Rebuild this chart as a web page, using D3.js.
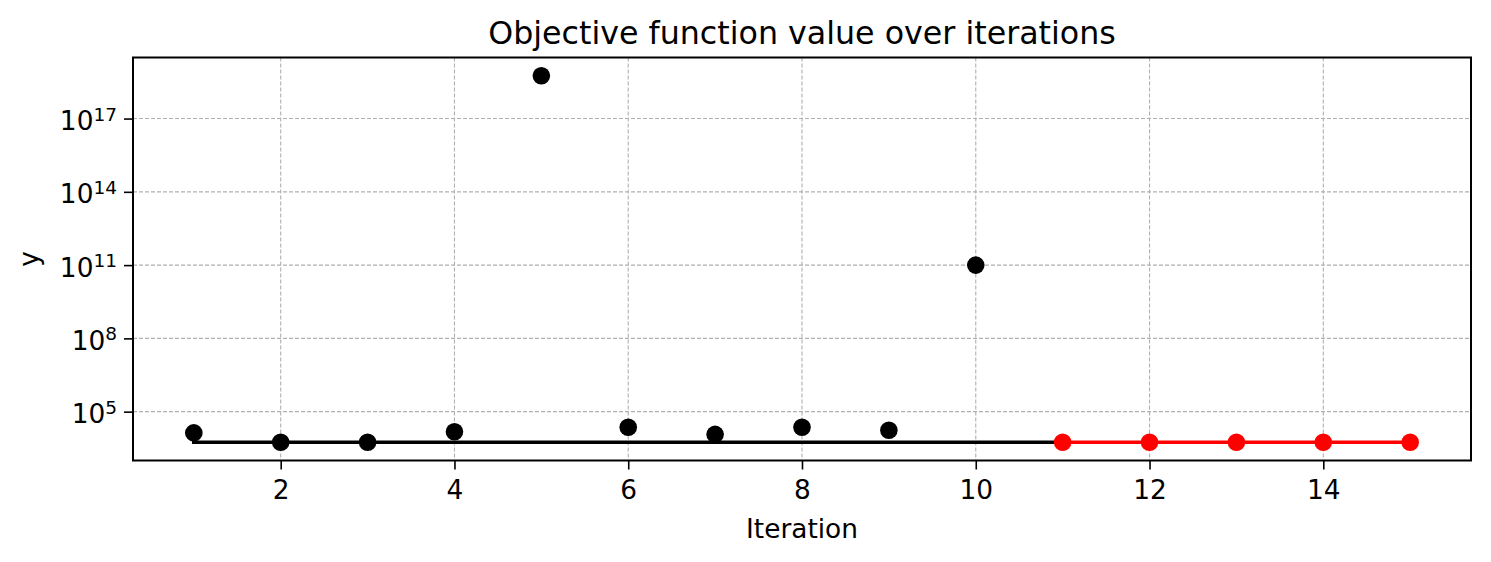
<!DOCTYPE html>
<html>
<head>
<meta charset="utf-8">
<script src="https://cdn.jsdelivr.net/npm/d3@7"></script>
<style>
  html, body { margin: 0; padding: 0; background: #fff; }
  svg { display: block; font-family: "DejaVu Sans", sans-serif; }
</style>
</head>
<body>
<svg id="chart" width="1491" height="562"></svg>
<script>
// ---- data ----
const iterations = [1, 2, 3, 4, 5, 6, 7, 8, 9, 10, 11, 12, 13, 14, 15];
const logValues = [4.13, 3.75, 3.75, 4.18, 18.75, 4.36, 4.07, 4.36, 4.24, 11.0, 3.75, 3.75, 3.75, 3.75, 3.75];
const initialCount = 10; // first 10 iterations are black, remaining are red
const bestLineX = [1, 11];
const xTicks = [2, 4, 6, 8, 10, 12, 14];
const yTickExponents = [5, 8, 11, 14, 17];
const titleText = "Objective function value over iterations";
const xLabel = "Iteration";
const yLabel = "y";

const values = logValues.map(v => Math.pow(10, v));
const bestValue = d3.min(values);

// ---- layout ----
const svg = d3.select("#chart");
const pL = 133, pR = 1471, pT = 57.5, pB = 460.5;
const fs = 26.4;

const x = d3.scaleLinear().domain([0.3, 15.7]).range([pL, pR]);
const y = d3.scaleLog().domain([Math.pow(10, 3.0), Math.pow(10, 19.5)]).range([pB, pT]);

// grid
const grid = svg.append("g");
grid.selectAll("line.gx").data(xTicks).join("line")
  .attr("x1", d => x(d)).attr("x2", d => x(d))
  .attr("y1", pT).attr("y2", pB)
  .attr("stroke", "#b0b0b0").attr("stroke-width", 1.1).attr("stroke-dasharray", "4,2");
grid.selectAll("line.gy").data(yTickExponents).join("line")
  .attr("x1", pL).attr("x2", pR)
  .attr("y1", d => y(Math.pow(10, d))).attr("y2", d => y(Math.pow(10, d)))
  .attr("stroke", "#b0b0b0").attr("stroke-width", 1.1).attr("stroke-dasharray", "4,2");

// x axis
const xAxis = d3.axisBottom(x).tickValues(xTicks).tickSize(9).tickPadding(7).tickFormat(d3.format("d"));
const gx = svg.append("g").attr("transform", `translate(0,${pB})`).call(xAxis);
gx.select(".domain").remove();
gx.selectAll(".tick line").attr("stroke", "#000").attr("stroke-width", 1.6);
gx.selectAll(".tick text").attr("font-size", fs).attr("fill", "#000")
  .attr("font-family", "DejaVu Sans").attr("dy", null).attr("y", 38);

// y axis
const yAxis = d3.axisLeft(y).tickValues(yTickExponents.map(e => Math.pow(10, e))).tickSize(9).tickFormat("");
const gy = svg.append("g").attr("transform", `translate(${pL},0)`).call(yAxis);
gy.select(".domain").remove();
gy.selectAll(".tick line").attr("stroke", "#000").attr("stroke-width", 1.6);
gy.selectAll(".tick").each(function(d) {
  const e = Math.round(Math.log10(d));
  const t = d3.select(this).append("text")
    .attr("x", -16).attr("y", 11)
    .attr("text-anchor", "end").attr("fill", "#000")
    .attr("font-family", "DejaVu Sans").attr("font-size", fs);
  t.append("tspan").text("10");
  t.append("tspan").attr("font-size", 18.5).attr("dy", -9.5).text(String(e));
});

// lines
const line = d3.line().x(d => x(d[0])).y(d => y(d[1]));
svg.append("path")
  .datum(bestLineX.map(i => [i, bestValue]))
  .attr("d", line).attr("fill", "none").attr("stroke", "#000")
  .attr("stroke-width", 3.6).attr("stroke-linecap", "square");

const redPts = iterations.map((it, i) => [it, values[i]]).slice(initialCount);
svg.append("path")
  .datum(redPts)
  .attr("d", line).attr("fill", "none").attr("stroke", "#ff0000")
  .attr("stroke-width", 3.4).attr("stroke-linecap", "square");

// points
svg.append("g").selectAll("circle")
  .data(iterations.map((it, i) => ({ it, v: values[i], red: i >= initialCount })))
  .join("circle")
  .attr("cx", d => x(d.it)).attr("cy", d => y(d.v)).attr("r", 8.8)
  .attr("fill", d => d.red ? "#ff0000" : "#000");

// frame
svg.append("rect").attr("x", pL).attr("y", pT)
  .attr("width", pR - pL).attr("height", pB - pT)
  .attr("fill", "none").attr("stroke", "#000").attr("stroke-width", 2);

// labels
svg.append("text").attr("x", (pL + pR) / 2).attr("y", 43.5)
  .attr("text-anchor", "middle").attr("font-size", 31.7).attr("fill", "#000")
  .text(titleText);
svg.append("text").attr("x", (pL + pR) / 2).attr("y", 538)
  .attr("text-anchor", "middle").attr("font-size", fs).attr("fill", "#000")
  .text(xLabel);
svg.append("text").attr("transform", `translate(38,${(pT + pB) / 2}) rotate(-90)`)
  .attr("text-anchor", "middle").attr("font-size", fs).attr("fill", "#000")
  .text(yLabel);
</script>
</body>
</html>
